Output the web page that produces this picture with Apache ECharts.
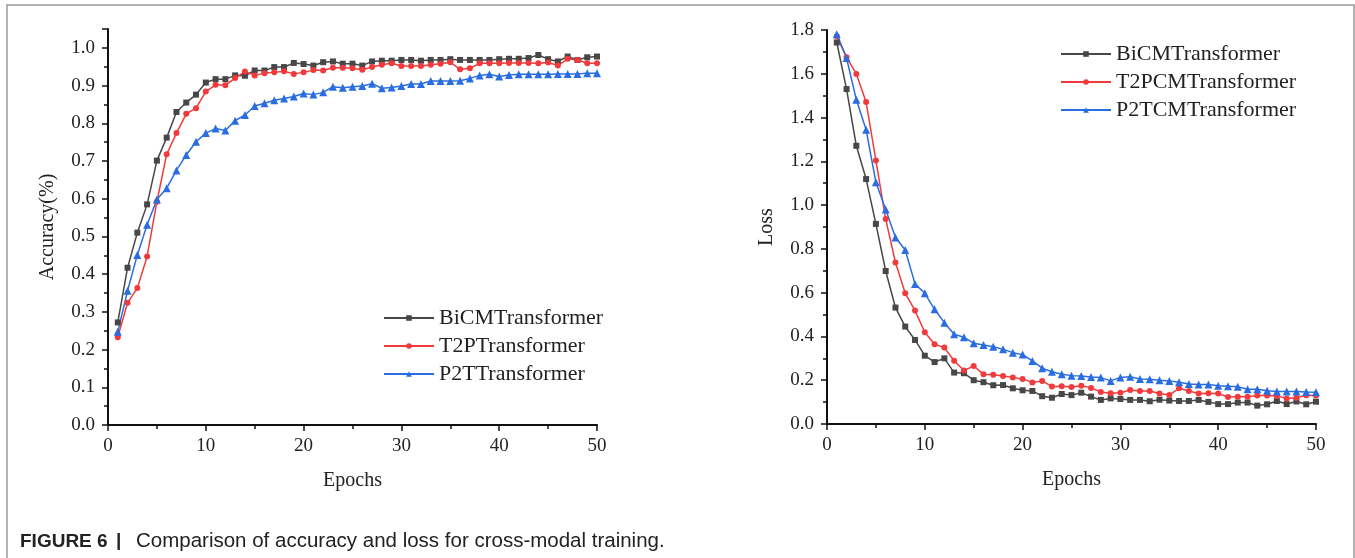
<!DOCTYPE html>
<html>
<head>
<meta charset="utf-8">
<script src="https://cdn.jsdelivr.net/npm/echarts@6/dist/echarts.min.js"></script>
<style>
  html, body { margin: 0; padding: 0; background: #fff; }
  #chart { width: 1355px; height: 558px; }
</style>
</head>
<body>
<div id="chart"></div>
<script>
const epochs = [1, 2, 3, 4, 5, 6, 7, 8, 9, 10, 11, 12, 13, 14, 15, 16, 17, 18, 19, 20,
  21, 22, 23, 24, 25, 26, 27, 28, 29, 30, 31, 32, 33, 34, 35, 36, 37, 38, 39, 40,
  41, 42, 43, 44, 45, 46, 47, 48, 49, 50];

const accBiCM = [0.272, 0.417, 0.510, 0.585, 0.701, 0.762, 0.830, 0.855, 0.876, 0.908,
  0.917, 0.917, 0.927, 0.926, 0.940, 0.940, 0.949, 0.949, 0.960, 0.957,
  0.953, 0.962, 0.964, 0.958, 0.958, 0.953, 0.964, 0.966, 0.966, 0.968,
  0.968, 0.966, 0.968, 0.968, 0.970, 0.968, 0.968, 0.968, 0.968, 0.970,
  0.971, 0.971, 0.973, 0.981, 0.970, 0.964, 0.977, 0.968, 0.975, 0.977];
const accT2P = [0.233, 0.324, 0.363, 0.447, 0.592, 0.718, 0.774, 0.825, 0.840, 0.884,
  0.902, 0.901, 0.920, 0.937, 0.927, 0.933, 0.935, 0.938, 0.931, 0.935,
  0.941, 0.940, 0.947, 0.947, 0.946, 0.942, 0.949, 0.955, 0.959, 0.952,
  0.952, 0.952, 0.955, 0.958, 0.962, 0.943, 0.946, 0.959, 0.959, 0.959,
  0.960, 0.960, 0.960, 0.959, 0.961, 0.953, 0.971, 0.968, 0.959, 0.959];
const accP2T = [0.247, 0.356, 0.451, 0.531, 0.598, 0.628, 0.675, 0.716, 0.751, 0.774,
  0.786, 0.781, 0.807, 0.822, 0.846, 0.853, 0.861, 0.866, 0.871, 0.879,
  0.876, 0.882, 0.897, 0.894, 0.897, 0.899, 0.905, 0.893, 0.895, 0.899,
  0.904, 0.904, 0.912, 0.912, 0.912, 0.913, 0.919, 0.927, 0.930, 0.924,
  0.928, 0.930, 0.930, 0.930, 0.930, 0.931, 0.931, 0.931, 0.933, 0.933];

const lossBiCM = [1.743, 1.530, 1.271, 1.119, 0.914, 0.699, 0.532, 0.445, 0.384, 0.312,
  0.283, 0.300, 0.235, 0.232, 0.200, 0.191, 0.177, 0.178, 0.163, 0.154,
  0.151, 0.127, 0.120, 0.137, 0.132, 0.143, 0.125, 0.110, 0.117, 0.114,
  0.110, 0.110, 0.104, 0.111, 0.107, 0.105, 0.105, 0.110, 0.101, 0.091,
  0.091, 0.098, 0.098, 0.084, 0.090, 0.105, 0.091, 0.103, 0.090, 0.102];
const lossT2PCM = [1.771, 1.676, 1.599, 1.471, 1.204, 0.936, 0.738, 0.597, 0.518, 0.419,
  0.364, 0.349, 0.289, 0.244, 0.265, 0.227, 0.225, 0.219, 0.213, 0.206,
  0.190, 0.197, 0.171, 0.173, 0.169, 0.175, 0.165, 0.146, 0.140, 0.143,
  0.155, 0.151, 0.151, 0.139, 0.133, 0.163, 0.151, 0.139, 0.140, 0.139,
  0.123, 0.125, 0.125, 0.130, 0.130, 0.128, 0.117, 0.120, 0.131, 0.130];
const lossP2TCM = [1.781, 1.672, 1.481, 1.344, 1.105, 0.980, 0.852, 0.795, 0.640, 0.597,
  0.524, 0.463, 0.410, 0.396, 0.369, 0.361, 0.353, 0.341, 0.326, 0.317,
  0.288, 0.255, 0.239, 0.227, 0.221, 0.219, 0.215, 0.212, 0.197, 0.213,
  0.216, 0.206, 0.204, 0.200, 0.197, 0.191, 0.183, 0.180, 0.180, 0.175,
  0.173, 0.170, 0.159, 0.159, 0.152, 0.149, 0.149, 0.149, 0.146, 0.145];

const accNames = ['BiCMTransformer', 'T2PTransformer', 'P2TTransformer'];
const lossNames = ['BiCMTransformer', 'T2PCMTransformer', 'P2TCMTransformer'];
const caption = 'Comparison of accuracy and loss for cross-modal training.';

const serif = '"Liberation Serif", "DejaVu Serif", serif';
const textColor = '#222';
const colors = ['#474747', '#f23a3d', '#2a6de0'];
const symbols = ['rect', 'circle', 'triangle'];
const symbolSizes = [6, 6, 8];

const pairs = vals => epochs.map((e, i) => [e, vals[i]]);

function xAxis(gridIndex) {
  return {
    gridIndex, type: 'value', min: 0, max: 50, interval: 10,
    name: 'Epochs', nameLocation: 'middle', nameGap: 46,
    nameTextStyle: { fontFamily: serif, fontSize: 20, color: textColor },
    axisLine: { lineStyle: { color: '#111', width: 2 } },
    axisTick: { length: 6, lineStyle: { color: '#111', width: 1.5 } },
    minorTick: { show: true, splitNumber: 2, length: 4, lineStyle: { color: '#111', width: 1.5 } },
    axisLabel: { fontFamily: serif, fontSize: 19, color: textColor, margin: 12 },
    splitLine: { show: false }
  };
}

function yAxis(gridIndex, max, interval, name) {
  return {
    gridIndex, type: 'value', min: 0, max, interval,
    name, nameLocation: 'middle', nameGap: 50,
    nameTextStyle: { fontFamily: serif, fontSize: 20, color: textColor },
    axisLine: { show: true, lineStyle: { color: '#111', width: 2 } },
    axisTick: { show: true, length: 6, lineStyle: { color: '#111', width: 1.5 } },
    minorTick: { show: true, splitNumber: 2, length: 4, lineStyle: { color: '#111', width: 1.5 } },
    axisLabel: {
      fontFamily: serif, fontSize: 19, color: textColor, margin: 13,
      showMaxLabel: max === 1.8, formatter: v => v.toFixed(1)
    },
    splitLine: { show: false }
  };
}

function lineSeries(name, vals, k, axisIndex) {
  return {
    name, type: 'line', xAxisIndex: axisIndex, yAxisIndex: axisIndex,
    data: pairs(vals),
    symbol: symbols[k], symbolSize: symbolSizes[k], showSymbol: true,
    lineStyle: { color: colors[k], width: 1.5 },
    itemStyle: { color: colors[k] },
    animation: false
  };
}

const legendBase = {
  orient: 'vertical', padding: 0, itemWidth: 50, itemHeight: 7, itemGap: 6,
  textStyle: { fontFamily: serif, fontSize: 22, color: textColor, lineHeight: 22 }
};

const chart = echarts.init(document.getElementById('chart'), null, { renderer: 'canvas' });

chart.setOption({
  backgroundColor: '#fff',
  animation: false,
  grid: [
    { left: 108, top: 29, width: 489, height: 396 },
    { left: 827, top: 30, width: 489, height: 394 }
  ],
  xAxis: [xAxis(0), xAxis(1)],
  yAxis: [yAxis(0, 1.05, 0.1, 'Accuracy(%)'), yAxis(1, 1.8, 0.2, 'Loss')],
  legend: [
    Object.assign({ left: 383, top: 307, data: accNames }, legendBase),
    Object.assign({ left: 1060, top: 43, itemGap: 5.5, data: lossNames }, legendBase)
  ],
  series: [
    lineSeries(accNames[0], accBiCM, 0, 0),
    lineSeries(accNames[1], accT2P, 1, 0),
    lineSeries(accNames[2], accP2T, 2, 0),
    lineSeries(lossNames[0], lossBiCM, 0, 1),
    lineSeries(lossNames[1], lossT2PCM, 1, 1),
    lineSeries(lossNames[2], lossP2TCM, 2, 1)
  ],
  graphic: [
    {
      type: 'rect', silent: true,
      shape: { x: 7, y: 5, width: 1347, height: 600 },
      style: { fill: null, stroke: '#9a9a9a', lineWidth: 1.5 }
    },
    {
      type: 'text', left: 20, top: 532, silent: true,
      style: { text: 'FIGURE 6', font: 'bold 19px "Liberation Sans", Arial, sans-serif', fill: '#222' }
    },
    {
      type: 'text', left: 116, top: 531, silent: true,
      style: { text: '|', font: 'bold 19px "Liberation Sans", Arial, sans-serif', fill: '#222' }
    },
    {
      type: 'text', left: 136, top: 531, silent: true,
      style: { text: caption, font: '20.5px "Liberation Sans", Arial, sans-serif', fill: '#222' }
    }
  ]
});
</script>
</body>
</html>
